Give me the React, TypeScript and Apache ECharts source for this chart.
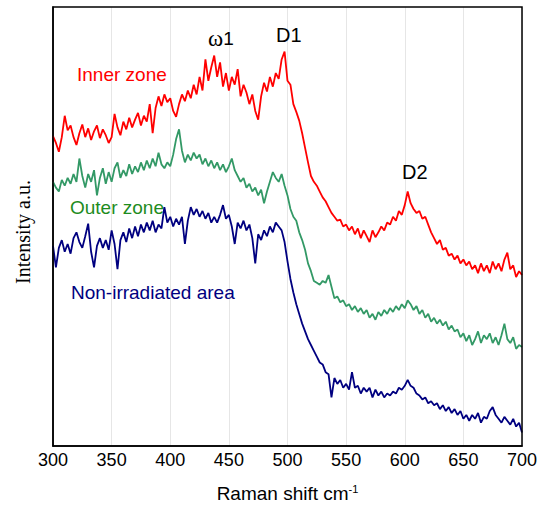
import React, { useEffect, useRef } from "react";
import * as echarts from "echarts";

// Raman shift grid: 300 to 700 cm-1, every 2.5 cm-1
const shiftStart = 300;
const shiftStep = 2.5;
const xTicks = [300, 350, 400, 450, 500, 550, 600, 650, 700];

const innerZone = [
  319, 312, 303, 318, 340, 325, 330, 318, 310, 322,
  331, 318, 327, 315, 324, 330, 317, 326, 320, 312,
  318, 342, 328, 320, 334, 326, 338, 328, 336, 343,
  330, 340, 334, 352, 322, 348, 360, 350, 362, 354,
  358, 345, 339, 352, 362, 355, 366, 358, 372, 362,
  380, 366, 398, 376, 390, 402, 380, 395, 370, 384,
  366, 380, 372, 388, 360, 372, 364, 352, 362, 345,
  336, 360, 374, 365, 380, 370, 384, 378, 398, 406,
  376, 372, 352, 344, 335, 322, 307, 292, 278, 272,
  268, 262, 256, 252, 246, 240, 236, 232, 233, 226,
  228, 222, 226, 218, 224, 214, 222, 216, 210, 222,
  215, 220, 226, 222, 230, 228, 236, 232, 242, 238,
  248, 262, 250, 244, 240, 242, 234, 236, 228, 220,
  214, 208, 212, 202, 204, 196, 198, 192, 196, 188,
  192, 186, 190, 182, 186, 178, 188, 180, 186, 178,
  190, 182, 188, 180, 192, 199, 182, 186, 174, 180,
  176,
];

const outerZone = [
  272, 266, 262, 274, 268, 276, 270, 280, 272, 296,
  278, 266, 280, 272, 284, 258, 276, 286, 270, 282,
  272, 286, 292, 276, 284, 278, 290, 280, 288, 282,
  292, 284, 294, 286, 296, 288, 302, 290, 286, 292,
  288, 300, 316, 326, 304, 292, 300, 294, 302, 296,
  300, 290, 296, 288, 294, 286, 292, 284, 290, 282,
  288, 296, 284, 278, 272, 276, 266, 270, 262, 266,
  258, 264, 250, 262, 272, 282, 276, 272, 280, 268,
  258, 244, 236, 232, 220, 212, 202, 188, 180, 170,
  168, 166, 170, 168, 176, 164, 152, 154, 148, 150,
  144, 146, 140, 144, 138, 142, 136, 140, 132, 136,
  130, 138, 134, 140, 136, 142, 138, 144, 140, 146,
  142, 150, 146, 140, 144, 136, 140, 132, 136, 128,
  132, 126, 130, 124, 128, 120, 124, 118, 120, 112,
  116, 108, 114, 104, 110, 118, 106, 114, 110, 116,
  106, 112, 104, 114, 126, 110, 106, 112, 100, 104,
  102,
];

const nonIrradiated = [
  206, 184, 204, 212, 200, 208, 198, 214, 220, 210,
  204, 216, 229, 200, 184, 206, 214, 204, 212, 202,
  222, 208, 182, 212, 220, 210, 224, 214, 226, 216,
  228, 220, 230, 222, 232, 220, 228, 224, 246, 230,
  236, 226, 234, 228, 236, 208, 232, 246, 238, 244,
  236, 242, 234, 240, 230, 236, 230, 238, 248, 234,
  238, 226, 208, 230, 224, 232, 222, 228, 214, 188,
  218, 212, 222, 216, 226, 220, 230, 226, 222, 210,
  190, 172, 158, 146, 136, 126, 118, 110, 104, 98,
  92, 86, 84, 76, 74, 50, 70, 64, 68, 60,
  64, 58, 76, 60, 62, 54, 60, 56, 60, 50,
  58, 52, 56, 50, 54, 52, 56, 54, 60, 58,
  62, 68, 62, 60, 54, 52, 48, 50, 44, 46,
  42, 44, 38, 42, 36, 40, 34, 38, 32, 36,
  28, 32, 26, 32, 28, 34, 24, 30, 28, 36,
  40, 32, 28, 24, 30, 26, 22, 28, 20, 24,
  14,
];

const seriesNames = ["Inner zone", "Outer zone", "Non-irradiated area"];
const seriesColors = ["#FF0000", "#339966", "#000080"];
const labelColors = ["#FF0000", "#1E8C1E", "#000080"];

function toPairs(values: number[]) {
  return values.map((v, i) => [shiftStart + i * shiftStep, v]);
}

export default function App() {
  const ref = useRef<HTMLDivElement>(null);
  useEffect(() => {
    document.body.style.margin = "0";
    if (!ref.current) return;
    const chart = echarts.init(ref.current, null, { renderer: "svg" });
    const allSeries = [innerZone, outerZone, nonIrradiated];
    const sans = "'Liberation Sans', Arial, sans-serif";
    const serif = "'Liberation Serif', 'Times New Roman', serif";
    chart.setOption({
      animation: false,
      backgroundColor: "#ffffff",
      grid: {
        left: 53,
        top: 7,
        right: 23,
        bottom: 49,
      },
      xAxis: {
        type: "value",
        min: 300,
        max: 700,
        interval: 50,
        axisLine: { show: true, onZero: false, lineStyle: { color: "#000000", width: 1.5 } },
        axisTick: { show: false },
        splitLine: { show: true, lineStyle: { color: "#e6e6e6", width: 1 } },
        axisLabel: {
          color: "#000",
          fontFamily: sans,
          fontSize: 18,
          margin: 5,
          formatter: (v: number) => (xTicks.includes(v) ? String(v) : ""),
        },
        name: "{a|Raman shift cm}{b|-1}",
        nameLocation: "middle",
        nameGap: 37,
        nameTextStyle: {
          rich: {
            a: { fontFamily: sans, fontSize: 19, color: "#000" },
            b: { fontFamily: sans, fontSize: 11, color: "#000", verticalAlign: "top", padding: [0, 0, 10, 0] },
          },
        },
      },
      yAxis: {
        type: "value",
        min: 0,
        max: 452,
        axisLine: { show: true, onZero: false, lineStyle: { color: "#000000", width: 1.5 } },
        axisTick: { show: false },
        axisLabel: { show: false },
        splitLine: { show: false },
      },
      series: allSeries.map((vals, k) => ({
        type: "line",
        name: seriesNames[k],
        data: toPairs(vals),
        showSymbol: false,
        symbol: "none",
        lineStyle: { color: seriesColors[k], width: 1.8 },
        z: 3 - k,
      })),
    });

    // plot frame, positioned through the axes' own scales
    const tl = chart.convertToPixel({ gridIndex: 0 }, [300, 452]) as number[];
    const br = chart.convertToPixel({ gridIndex: 0 }, [700, 0]) as number[];

    chart.setOption({
      graphic: [
        {
          type: "rect",
          z: 50,
          silent: true,
          shape: { x: tl[0], y: tl[1], width: br[0] - tl[0], height: br[1] - tl[1] },
          style: { fill: "none", stroke: "#000000", lineWidth: 1.5 },
        },
        {
          type: "text",
          x: 23,
          y: 232,
          rotation: Math.PI / 2,
          style: {
            text: "Intensity a.u.",
            font: "20px " + serif,
            fill: "#000",
            align: "center",
            verticalAlign: "middle",
          },
        },
        { type: "text", x: 77, y: 65, style: { text: seriesNames[0], font: "19px " + sans, fill: labelColors[0] } },
        { type: "text", x: 70, y: 198, style: { text: seriesNames[1], font: "19px " + sans, fill: labelColors[1] } },
        { type: "text", x: 71, y: 283, style: { text: seriesNames[2], font: "19px " + sans, fill: labelColors[2] } },
        {
          type: "text",
          x: 208,
          y: 27,
          style: {
            text: "{w|ω}{n|1}",
            rich: {
              w: { fontFamily: serif, fontSize: 23, fill: "#000", color: "#000" },
              n: { fontFamily: sans, fontSize: 19, fill: "#000", color: "#000" },
            },
          },
        },
        { type: "text", x: 276, y: 25, style: { text: "D1", font: "20px " + sans, fill: "#000" } },
        { type: "text", x: 402, y: 162, style: { text: "D2", font: "20px " + sans, fill: "#000" } },
      ],
    });
    return () => chart.dispose();
  }, []);
  return <div ref={ref} style={{ width: 545, height: 508 }} />;
}
